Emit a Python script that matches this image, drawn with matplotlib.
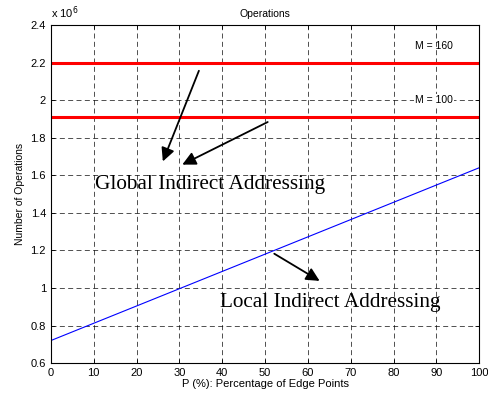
import numpy as np
import matplotlib.pyplot as plt

plt.rcParams['font.family'] = ['Liberation Sans', 'DejaVu Sans']

# values in units of 1e6 operations
p = [0, 100]
m160 = [2.2, 2.2]
m100 = [1.91, 1.91]
local = [0.72, 1.64]

xticks = list(range(0, 101, 10))
yticks = [0.6, 0.8, 1, 1.2, 1.4, 1.6, 1.8, 2, 2.2, 2.4]
ytick_labels = ["0.6", "0.8", "1", "1.2", "1.4", "1.6", "1.8", "2", "2.2", "2.4"]

fig = plt.figure(figsize=(4.89, 4.03), dpi=100)
ax = fig.add_axes([0.104, 0.099, 0.876, 0.839])

ax.plot(p, m160, color="red", lw=2.2)
ax.plot(p, m100, color="red", lw=2.2)
ax.plot(p, local, color="blue", lw=0.8)

ax.set_xlim(0, 100)
ax.set_ylim(0.6, 2.4)
ax.set_xticks(xticks)
ax.set_yticks(yticks)
ax.set_yticklabels(ytick_labels)
ax.tick_params(direction="in", top=True, right=True, labelsize=8, length=3, width=0.6)
ax.grid(True, color="black", ls=(0, (6, 4)), lw=0.6, alpha=0.8)
for s in ax.spines.values():
    s.set_linewidth(0.8)

ax.set_title("Operations", fontsize=7.5, pad=6)
ax.set_xlabel("P (%): Percentage of Edge Points", fontsize=8, labelpad=1)
ax.set_ylabel("Number of Operations", fontsize=7.5, labelpad=4)
ax.text(0, 2.42, "x 10$^6$", fontsize=8, ha="left", va="bottom")

ax.text(85, 2.29, "M = 160", fontsize=7.5, ha="left", va="center")
ax.text(85, 2.0, "M = 100", fontsize=7.5, ha="left", va="center",
        bbox=dict(facecolor="white", edgecolor="none", pad=1))

serif = ["Liberation Serif", "DejaVu Serif"]
ax.text(10.3, 1.55, "Global Indirect Addressing", fontsize=15.3, family=serif, va="center")
ax.text(39.5, 0.92, "Local Indirect Addressing", fontsize=15.3, family=serif, va="center")

arrow = dict(arrowstyle="-|>,head_length=0.8,head_width=0.4", color="black", lw=1.3)
ax.annotate("", xy=(25.9, 1.66), xytext=(34.8, 2.17), arrowprops=arrow)
ax.annotate("", xy=(30.1, 1.65), xytext=(51.2, 1.89), arrowprops=arrow)
ax.annotate("", xy=(63.3, 1.03), xytext=(51.6, 1.19), arrowprops=arrow)

fig.savefig("out.png", dpi=100)
